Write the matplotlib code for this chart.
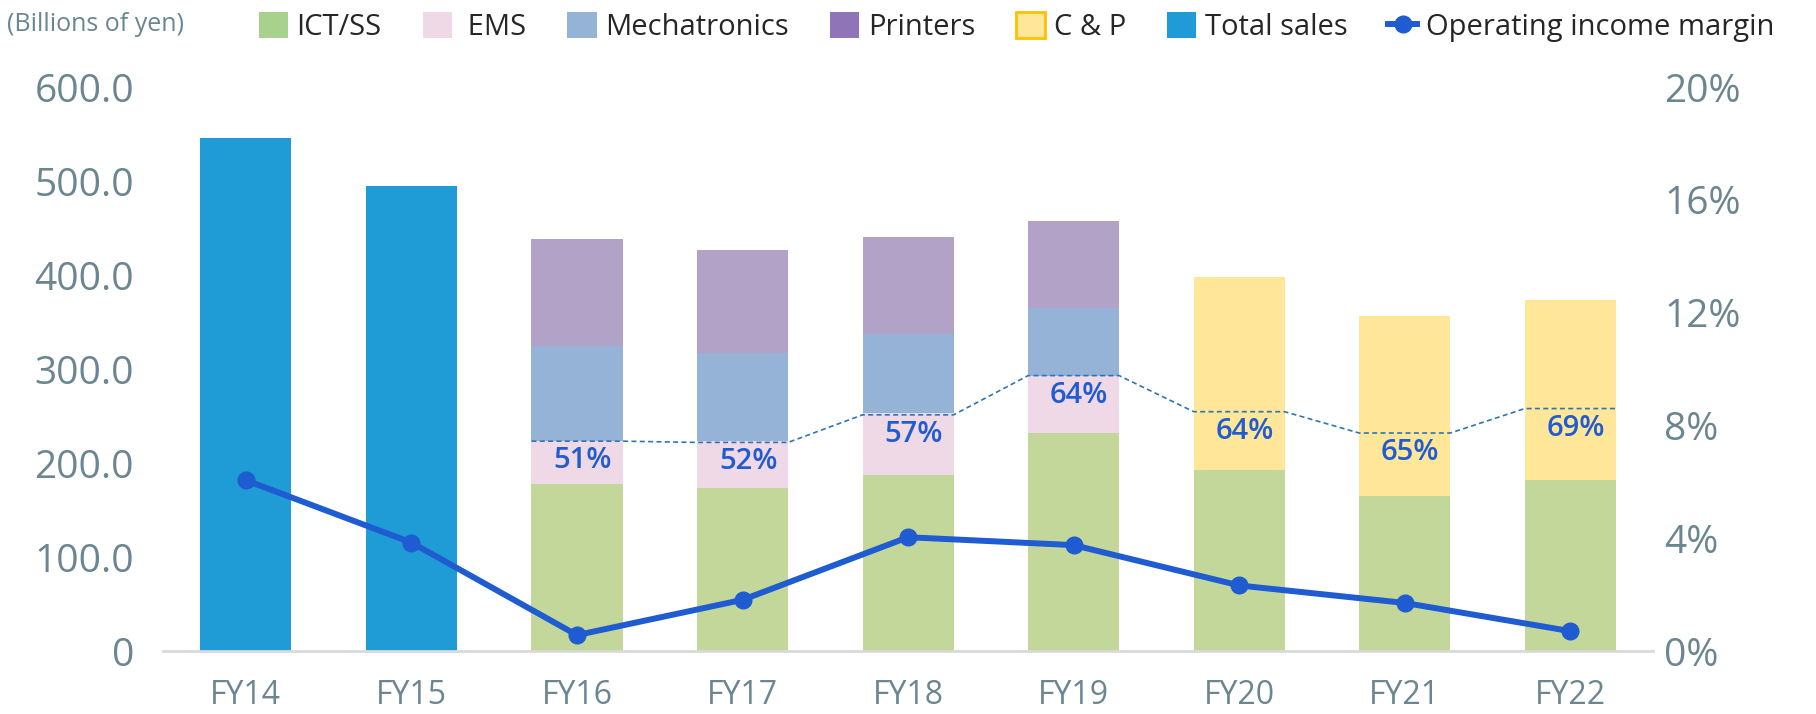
import numpy as np
import matplotlib.pyplot as plt
from matplotlib.patches import Patch
from matplotlib.lines import Line2D

plt.rcParams['font.family'] = ['Open Sans', 'DejaVu Sans']

nan = np.nan
years = ['FY14', 'FY15', 'FY16', 'FY17', 'FY18', 'FY19', 'FY20', 'FY21', 'FY22']
total_sales = [546, 495, nan, nan, nan, nan, nan, nan, nan]
ict_ss = [nan, nan, 178, 174, 187, 232, 193, 165, 182]
ems = [nan, nan, 46, 50, 66, 61, nan, nan, nan]
mechatronics = [nan, nan, 101, 93, 84, 72, nan, nan, nan]
printers = [nan, nan, 113, 110, 104, 93, nan, nan, nan]
c_and_p = [nan, nan, nan, nan, nan, nan, 205, 192, 192]
margin = [6.06, 3.85, 0.57, 1.82, 4.04, 3.76, 2.33, 1.71, 0.71]
share_pct = [nan, nan, 51, 52, 57, 64, 64, 65, 69]

c_total = '#1f9bd5'
c_ict = '#c4d79b'
c_ems = '#f0d9e6'
c_mech = '#95b3d7'
c_prn = '#b2a2c7'
c_cp = '#ffe699'
c_line = '#1f5bd1'
tick_col = '#6b8691'

fig = plt.figure(figsize=(18.16, 7.14), dpi=100)
ax = fig.add_axes([0.0898, 0.088, 0.8205, 0.79])
ax2 = ax.twinx()

x = np.arange(len(years))
w = 0.55

ict_arr = np.array(ict_ss, dtype=float)
ems_arr = np.array(ems, dtype=float)
mech_arr = np.array(mechatronics, dtype=float)
prn_arr = np.array(printers, dtype=float)
cp_arr = np.array(c_and_p, dtype=float)

ax.bar(x, total_sales, w, color=c_total)
ax.bar(x, ict_arr, w, color=c_ict)
b1 = np.nan_to_num(ict_arr)
ax.bar(x, ems_arr, w, bottom=b1, color=c_ems)
b2 = b1 + np.nan_to_num(ems_arr)
ax.bar(x, mech_arr, w, bottom=b2, color=c_mech)
b3 = b2 + np.nan_to_num(mech_arr)
ax.bar(x, prn_arr, w, bottom=b3, color=c_prn)
ax.bar(x, cp_arr, w, bottom=b1, color=c_cp)

# dashed share line and labels
seg_total = b3 + np.nan_to_num(prn_arr) + np.nan_to_num(cp_arr)
xs, ys = [], []
for i, p in enumerate(share_pct):
    if np.isnan(p):
        continue
    lvl = seg_total[i] * p / 100
    xs += [i - w / 2, i + w / 2]
    ys += [lvl, lvl]
    ax.annotate(f'{int(p)}%', (i, lvl), xytext=(4, -14), textcoords='offset points',
                ha='center', va='center', fontsize=21, fontweight='semibold', color=c_line)
ax.plot(xs, ys, color='#2e75b6', lw=1.2, ls=(0, (3, 2)))

ax2.plot(x, margin, color=c_line, lw=4.3, marker='o', ms=12)

ax.set_xlim(-0.5, len(years) - 0.5)
ax.set_ylim(0, 600)
ax2.set_ylim(0, 20)
ax.set_yticks(np.arange(0, 601, 100))
ax.set_yticklabels(['0'] + [f'{v:.1f}' for v in np.arange(100, 601, 100)])
ax2.set_yticks(np.arange(0, 21, 4))
ax2.set_yticklabels([f'{v}%' for v in range(0, 21, 4)])
ax.set_xticks(x)
ax.set_xticklabels(years)

for s in ['top', 'left', 'right']:
    ax.spines[s].set_visible(False)
for s in ax2.spines.values():
    s.set_visible(False)
ax.spines['bottom'].set_color('#d9d9d9')
ax.spines['bottom'].set_linewidth(2)

ax.tick_params(axis='y', length=0, pad=21, labelsize=28, labelcolor=tick_col)
ax.tick_params(axis='x', length=0, pad=20, labelsize=23, labelcolor=tick_col)
ax2.tick_params(axis='y', length=0, pad=8, labelsize=28, labelcolor=tick_col)

fig.text(0.004, 0.965, '(Billions of yen)', fontsize=18, color=tick_col, va='center')

handles = [
    Patch(facecolor='#a9d18e'),
    Patch(facecolor='#f0d9e6'),
    Patch(facecolor='#95b3d7'),
    Patch(facecolor='#8f74b8'),
    Patch(facecolor=c_cp, edgecolor='#ffc000', lw=2),
    Patch(facecolor=c_total),
    Line2D([], [], color=c_line, lw=4.3, marker='o', ms=12),
]
labels = ['ICT/SS', ' EMS', 'Mechatronics', 'Printers', 'C & P', 'Total sales', 'Operating income margin']
fig.legend(handles, labels, loc='center left', bbox_to_anchor=(0.136, 0.962), ncol=7,
           frameon=False, fontsize=21, handlelength=1.0, handleheight=1.0,
           handletextpad=0.3, columnspacing=1.4, labelcolor='#262626', borderaxespad=0)

fig.savefig('out.png', dpi=100)
